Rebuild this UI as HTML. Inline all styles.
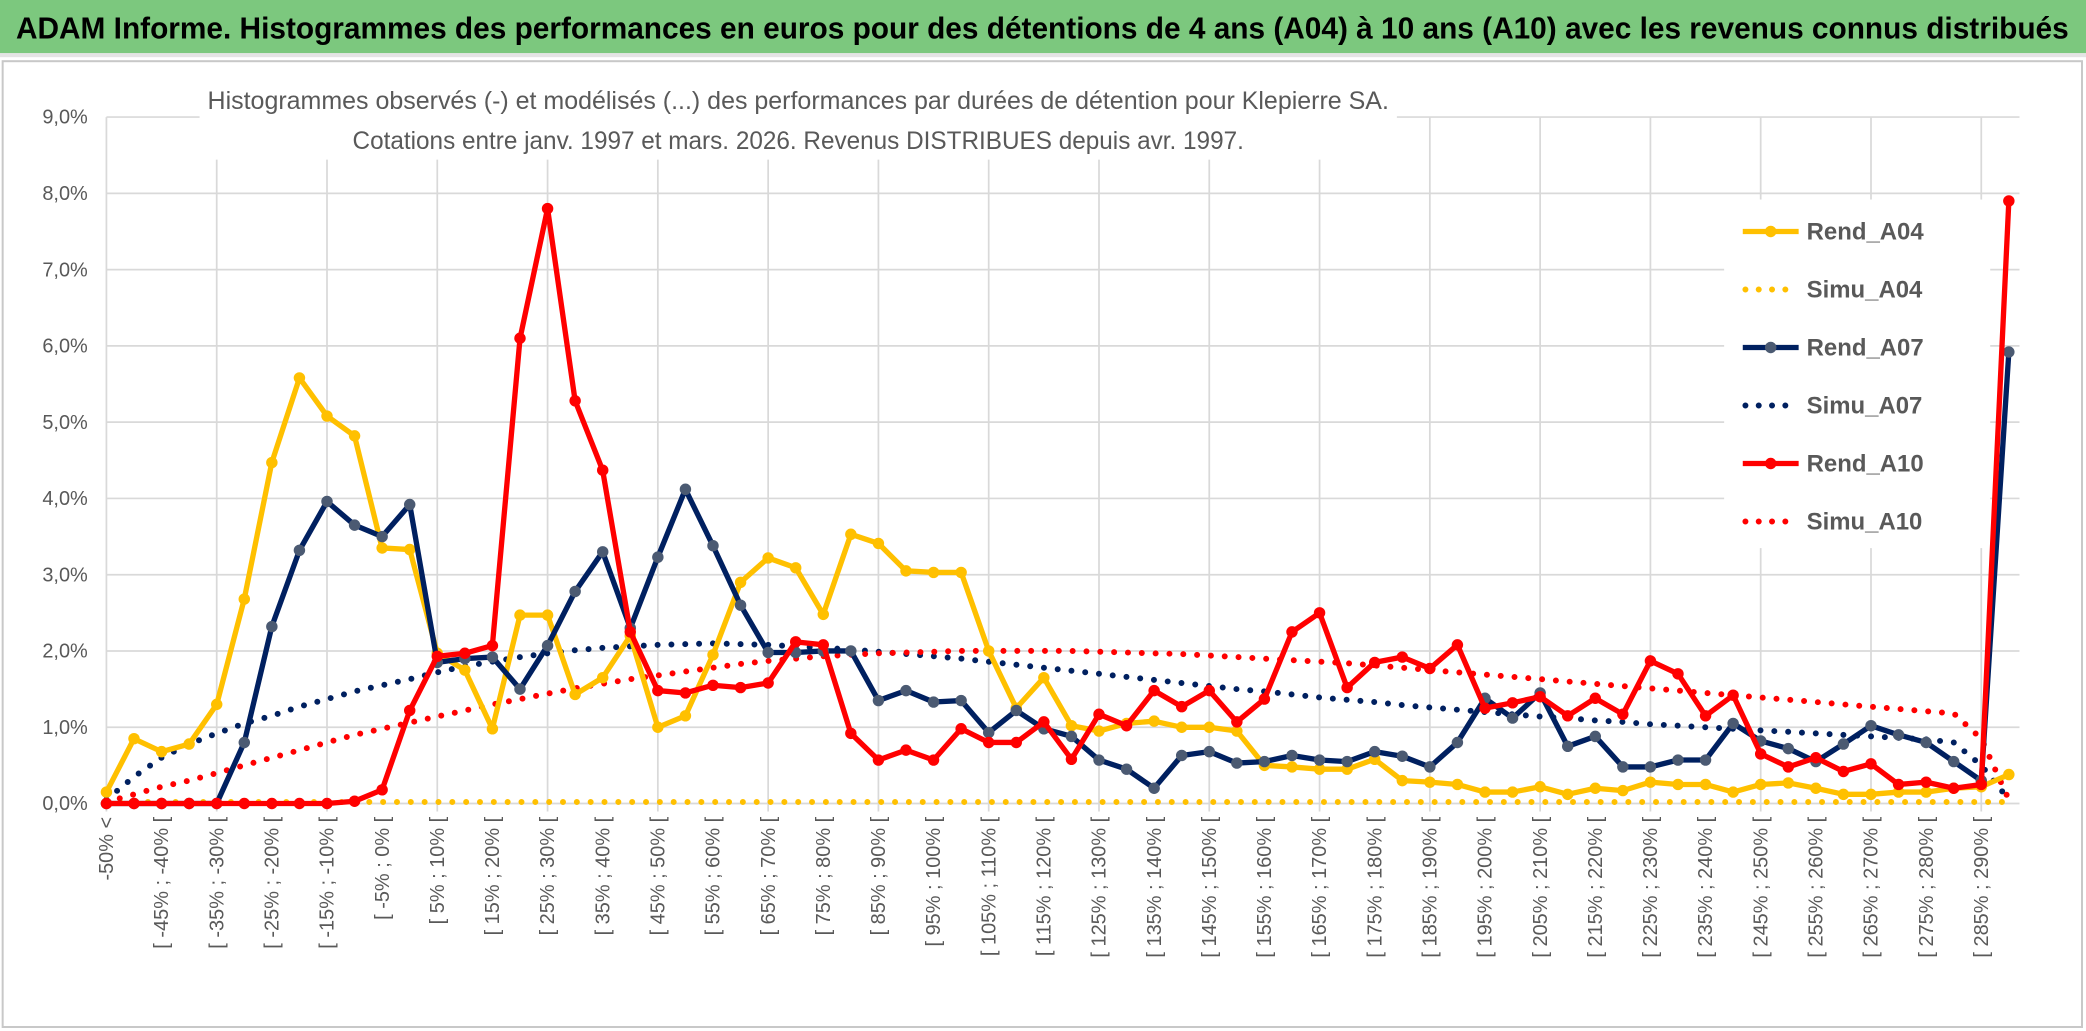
<!DOCTYPE html>
<html><head><meta charset="utf-8"><title>ADAM Informe – Histogrammes des performances, Klepierre SA</title>
<style>
html,body{margin:0;padding:0;background:#fff;}
svg{display:block;font-family:"Liberation Sans Narrow","Liberation Sans",sans-serif;}
</style></head>
<body>
<svg id="chart" width="2086" height="1031" viewBox="0 0 1568 775" preserveAspectRatio="none" xmlns="http://www.w3.org/2000/svg">
  <rect x="0" y="0" width="1568" height="775" fill="#ffffff"/>
  <g>
    <rect x="0" y="0" width="1568" height="40" fill="#7cc87e"/>
    <rect x="0" y="40" width="1568" height="3" fill="#e4e4e4"/>
    <text x="12" y="29" font-size="23" font-weight="bold" fill="#000" textLength="1543" lengthAdjust="spacingAndGlyphs">ADAM Informe. Histogrammes des performances en euros pour des détentions de 4 ans (A04) à 10 ans (A10) avec les revenus connus distribués</text>
  </g>
  <rect x="2" y="46" width="1563" height="726" fill="none" stroke="#c8c8c8" stroke-width="1.5"/>
  <g id="grid"></g>
  <g id="yaxis"></g>
  <g id="xaxis"></g>
  <g>
    <rect x="150" y="54" width="900" height="66" fill="#fff"/>
    <text x="600" y="82" text-anchor="middle" font-size="19" fill="#595959" textLength="888" lengthAdjust="spacingAndGlyphs">Histogrammes observés (-) et modélisés (...) des performances par durées de détention pour Klepierre SA.</text>
    <text x="600" y="112" text-anchor="middle" font-size="19" fill="#595959" textLength="670" lengthAdjust="spacingAndGlyphs">Cotations entre janv. 1997 et mars. 2026. Revenus DISTRIBUES depuis avr. 1997.</text>
  </g>
  <rect x="1296" y="150" width="200" height="262" fill="#fff"/>
  <g id="series"></g>
  <g id="legend"></g>
</svg>
<script>
const categories = (function(){const c=["-50% <"];for(let k=-50;k<295;k+=5){c.push("[ "+k+"% ; "+(k+5)+"% [");}return c;})();
const yTicks = [0,1,2,3,4,5,6,7,8,9];
const yTickLabels = ["0,0%","1,0%","2,0%","3,0%","4,0%","5,0%","6,0%","7,0%","8,0%","9,0%"];
const rendA04 = [0.15,0.85,0.68,0.78,1.3,2.68,4.47,5.58,5.08,4.82,3.35,3.33,1.97,1.75,0.98,2.47,2.47,1.43,1.65,2.2,1.0,1.15,1.95,2.9,3.22,3.09,2.48,3.53,3.41,3.05,3.03,3.03,2.0,1.25,1.65,1.02,0.95,1.05,1.08,1.0,1.0,0.95,0.5,0.48,0.45,0.45,0.58,0.3,0.28,0.25,0.15,0.15,0.22,0.12,0.2,0.17,0.28,0.25,0.25,0.15,0.25,0.27,0.2,0.12,0.12,0.15,0.15,0.2,0.22,0.38];
const simuA04 = [0.01,0.02,0.02,0.02,0.02,0.02,0.02,0.02,0.02,0.02,0.02,0.02,0.02,0.02,0.02,0.02,0.02,0.02,0.02,0.02,0.02,0.02,0.02,0.02,0.02,0.02,0.02,0.02,0.02,0.02,0.02,0.02,0.02,0.02,0.02,0.02,0.02,0.02,0.02,0.02,0.02,0.02,0.02,0.02,0.02,0.02,0.02,0.02,0.02,0.02,0.02,0.02,0.02,0.02,0.02,0.02,0.02,0.02,0.02,0.02,0.02,0.02,0.02,0.02,0.02,0.02,0.02,0.02,0.02,0.02];
const rendA07 = [0,0,0,0,0,0.8,2.32,3.32,3.96,3.65,3.5,3.92,1.85,1.9,1.92,1.5,2.07,2.78,3.3,2.3,3.23,4.12,3.38,2.6,1.98,1.98,2.0,2.0,1.35,1.48,1.33,1.35,0.93,1.22,0.98,0.88,0.57,0.45,0.2,0.63,0.68,0.53,0.55,0.63,0.57,0.55,0.68,0.62,0.48,0.8,1.38,1.12,1.45,0.75,0.88,0.48,0.48,0.57,0.57,1.05,0.82,0.72,0.55,0.78,1.02,0.9,0.8,0.55,0.3,5.92];
const simuA07 = [0.05,0.35,0.6,0.78,0.92,1.05,1.15,1.27,1.37,1.47,1.55,1.63,1.72,1.8,1.86,1.92,1.97,2.01,2.04,2.06,2.08,2.09,2.1,2.09,2.08,2.06,2.04,2.02,1.99,1.96,1.93,1.9,1.86,1.82,1.78,1.74,1.7,1.66,1.62,1.58,1.54,1.5,1.47,1.43,1.39,1.36,1.33,1.29,1.26,1.23,1.2,1.17,1.14,1.12,1.09,1.07,1.04,1.02,1.0,0.98,0.96,0.94,0.92,0.9,0.88,0.86,0.84,0.8,0.5,0.05];
const rendA10 = [0,0,0,0,0,0,0,0,0,0.03,0.18,1.22,1.93,1.97,2.07,6.1,7.8,5.28,4.37,2.25,1.48,1.45,1.55,1.52,1.58,2.12,2.08,0.92,0.57,0.7,0.57,0.98,0.8,0.8,1.07,0.58,1.17,1.02,1.48,1.27,1.48,1.07,1.37,2.25,2.5,1.52,1.85,1.92,1.77,2.08,1.25,1.32,1.4,1.15,1.38,1.17,1.87,1.7,1.15,1.42,0.65,0.48,0.6,0.42,0.52,0.25,0.28,0.2,0.25,7.9];
const simuA10 = [0.02,0.12,0.22,0.3,0.4,0.5,0.6,0.7,0.8,0.9,0.98,1.06,1.14,1.22,1.3,1.37,1.44,1.51,1.57,1.63,1.68,1.73,1.78,1.83,1.87,1.9,1.93,1.95,1.97,1.98,1.99,2.0,2.0,2.0,2.0,2.0,1.99,1.98,1.97,1.96,1.94,1.92,1.9,1.88,1.86,1.84,1.81,1.78,1.75,1.72,1.69,1.66,1.63,1.6,1.57,1.54,1.51,1.48,1.45,1.42,1.39,1.36,1.33,1.3,1.27,1.24,1.21,1.18,0.85,0.05];

const NS="http://www.w3.org/2000/svg";
const X0=80, X1=1510, Y0=604, Y9=88;
function xPos(i){return X0+(X1-X0)*i/(categories.length-1);}
function yPos(v){return Y0-(Y0-Y9)*v/9;}
function mk(tag,attrs,parent){const e=document.createElementNS(NS,tag);for(const k in attrs)e.setAttribute(k,attrs[k]);parent.appendChild(e);return e;}

const grid=document.getElementById('grid');
yTicks.forEach(function(t){
  const l=mk('line',{x1:X0,x2:X1+8,y1:yPos(t),y2:yPos(t),stroke:'#d9d9d9','stroke-width':1.3},grid);
  
  
});
for(let i=0;i<categories.length;i+=4){
  const l=mk('line',{x1:xPos(i),x2:xPos(i),y1:Y9,y2:Y0+6,stroke:'#d9d9d9','stroke-width':1.3},grid);
  
  
}
const yaxis=document.getElementById('yaxis');
yTicks.forEach(function(t,k){
  const tx=mk('text',{x:66,y:yPos(t)+5,'text-anchor':'end','font-size':15,fill:'#595959'},yaxis);
  tx.textContent=yTickLabels[k];
  
  
});
const xaxis=document.getElementById('xaxis');
for(let i=0;i<categories.length;i+=2){
  const x=xPos(i)+5, y=614;
  const tx=mk('text',{x:x,y:y,'text-anchor':'end','font-size':15,fill:'#595959',transform:'rotate(-90 '+x+' '+y+')'},xaxis);
  tx.textContent=categories[i];
  
  
}

const series=document.getElementById('series');
function pts(arr){return arr.map(function(v,i){return xPos(i).toFixed(1)+','+yPos(v).toFixed(1);}).join(' ');}
function dotted(arr,color,name){
  const p=mk('polyline',{points:pts(arr),fill:'none',stroke:color,'stroke-width':4.5,'stroke-linecap':'round','stroke-dasharray':'0 10.4'},series);
  
  
}
function solid(arr,color,mfill,name){
  const g=mk('g',{},series);
  
  
  mk('polyline',{points:pts(arr),fill:'none',stroke:color,'stroke-width':4,'stroke-linejoin':'round'},g);
  arr.forEach(function(v,i){
    const c=mk('circle',{cx:xPos(i),cy:yPos(v),r:4.3,fill:mfill},g);
    
    
  });
}
dotted(simuA04,'#ffc000','series-simu-a04');
dotted(simuA07,'#002060','series-simu-a07');
dotted(simuA10,'#ff0000','series-simu-a10');
solid(rendA04,'#ffc000','#ffc000','series-rend-a04');
solid(rendA07,'#002060','#4b5a72','series-rend-a07');
solid(rendA10,'#ff0000','#ff0000','series-rend-a10');

const legendNames=["Rend_A04","Simu_A04","Rend_A07","Simu_A07","Rend_A10","Simu_A10"];
const legendColors=['#ffc000','#ffc000','#002060','#002060','#ff0000','#ff0000'];
const legend=document.getElementById('legend');
legendNames.forEach(function(n,k){
  const y=174+k*43.6;
  const g=mk('g',{},legend);
  
  
  if(k%2===0){
    mk('line',{x1:1310,x2:1352,y1:y,y2:y,stroke:legendColors[k],'stroke-width':4},g);
    mk('circle',{cx:1331,cy:y,r:4.3,fill:k===2?'#4b5a72':legendColors[k]},g);
  }else{
    mk('line',{x1:1312,x2:1352,y1:y,y2:y,stroke:legendColors[k],'stroke-width':4.5,'stroke-linecap':'round','stroke-dasharray':'0 10'},g);
  }
  const t=mk('text',{x:1358,y:y+6,'font-size':18,'font-weight':'bold',fill:'#595959'},g);
  t.textContent=n;
});
</script>
</body></html>
